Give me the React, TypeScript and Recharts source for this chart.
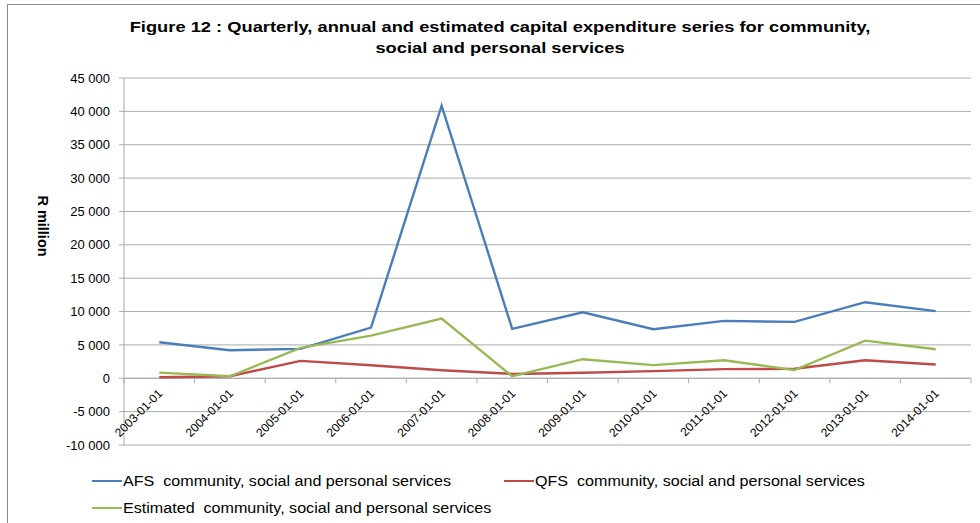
import React from 'react';
import { LineChart, Line, XAxis, YAxis, CartesianGrid, ReferenceLine } from 'recharts';

const categories = [
  '2003-01-01', '2004-01-01', '2005-01-01', '2006-01-01', '2007-01-01', '2008-01-01',
  '2009-01-01', '2010-01-01', '2011-01-01', '2012-01-01', '2013-01-01', '2014-01-01',
];
const afsValues = [5400, 4200, 4400, 7600, 40850, 7400, 9900, 7350, 8600, 8450, 11400, 10070];
const qfsValues = [150, 300, 2600, 1950, 1200, 650, 820, 1070, 1370, 1420, 2710, 2070];
const estValues = [850, 300, 4550, 6400, 8950, 300, 2860, 1970, 2710, 1220, 5640, 4350];
const yTicks = [-10000, -5000, 0, 5000, 10000, 15000, 20000, 25000, 30000, 35000, 40000, 45000];

const seriesNames = {
  afs: 'AFS  community, social and personal services',
  qfs: 'QFS  community, social and personal services',
  est: 'Estimated  community, social and personal services',
};
const colors = { afs: '#4A7EBB', qfs: '#BE4B48', est: '#98B954' };

const data = categories.map((c, i) => ({
  date: c,
  afs: afsValues[i],
  qfs: qfsValues[i],
  est: estValues[i],
}));

const W = 980;
const H = 523;
const PLOT_TOP = 78;
const PLOT_BOTTOM = 445;
const PLOT_LEFT = 124;
const PLOT_RIGHT = 971;
const Y_MIN = -10000;
const Y_MAX = 45000;
const ZERO_Y = PLOT_TOP + ((Y_MAX - 0) / (Y_MAX - Y_MIN)) * (PLOT_BOTTOM - PLOT_TOP);
const HALF_BAND = (PLOT_RIGHT - PLOT_LEFT) / categories.length / 2;
const GRID = '#ABABAB';
const FONT = '"Liberation Sans", Arial, sans-serif';

const fmt = (v: number) => {
  const s = Math.abs(v).toString().replace(/\B(?=(\d{3})+(?!\d))/g, ' ');
  return (v < 0 ? '-' : '') + s;
};

const CategoryTick = (props: any) => {
  const { x, payload, index } = props;
  const tx = x + 4;
  const ty = ZERO_Y + 16;
  return (
    <g>
      <line x1={x - HALF_BAND} x2={x - HALF_BAND} y1={ZERO_Y} y2={ZERO_Y + 5} stroke={GRID} />
      {index === categories.length - 1 && (
        <line x1={x + HALF_BAND} x2={x + HALF_BAND} y1={ZERO_Y} y2={ZERO_Y + 5} stroke={GRID} />
      )}
      <text
        x={tx}
        y={ty}
        transform={`rotate(-45, ${tx}, ${ty})`}
        textAnchor="end"
        fontSize={12}
        fontFamily={FONT}
        fill="#000"
      >
        {payload.value}
      </text>
    </g>
  );
};

export default function App() {
  const keys: Array<'afs' | 'qfs' | 'est'> = ['afs', 'qfs', 'est'];
  return (
    <div style={{ position: 'absolute', left: 0, top: 0, width: W, height: H, background: '#fff', overflow: 'hidden' }}>
      <div style={{ position: 'absolute', left: 7, top: 4, width: W, height: 1, background: '#8a8a8a', zIndex: 5 }} />
      <div style={{ position: 'absolute', left: 7, top: 4, width: 1, height: H, background: '#8a8a8a', zIndex: 5 }} />
      <div
        style={{
          position: 'absolute',
          left: 0,
          width: 1000,
          top: 16,
          textAlign: 'center',
          fontFamily: FONT,
          fontWeight: 'bold',
          fontSize: 15,
          lineHeight: '21px',
          color: '#000',
          transform: 'scaleX(1.22)',
          transformOrigin: '500px 0',
        }}
      >
        Figure 12 : Quarterly, annual and estimated capital expenditure series for community,
        <br />
        social and personal services
      </div>
      <div style={{ position: 'absolute', left: 0, top: 0 }}>
        <LineChart
          width={W}
          height={H}
          data={data}
          margin={{ top: PLOT_TOP, right: W - PLOT_RIGHT, bottom: H - PLOT_BOTTOM - 30, left: 0 }}
        >
          <CartesianGrid vertical={false} stroke={GRID} />
          <XAxis
            dataKey="date"
            height={30}
            axisLine={false}
            tickLine={false}
            interval={0}
            padding={{ left: HALF_BAND, right: HALF_BAND }}
            tick={<CategoryTick />}
          />
          <YAxis
            width={PLOT_LEFT}
            domain={[Y_MIN, Y_MAX]}
            ticks={yTicks}
            interval={0}
            tickFormatter={fmt}
            stroke={GRID}
            tickSize={5}
            tickMargin={9}
            tick={{ fill: '#000', fontSize: 13, fontFamily: FONT }}
            label={{
              content: () => (
                <text
                  x={43}
                  y={226}
                  transform="rotate(90, 43, 226)"
                  textAnchor="middle"
                  dominantBaseline="central"
                  fontSize={14.5}
                  fontWeight="bold"
                  fontFamily={FONT}
                  fill="#000"
                >
                  R million
                </text>
              ),
            }}
          />
          <ReferenceLine y={0} stroke={GRID} />
          {keys.map((k) => (
            <Line
              key={k}
              type="linear"
              dataKey={k}
              name={seriesNames[k]}
              stroke={colors[k]}
              strokeWidth={2.4}
              dot={false}
              activeDot={false}
              isAnimationActive={false}
            />
          ))}
        </LineChart>
      </div>
      {[
        { k: 'afs' as const, x: 92, y: 481 },
        { k: 'qfs' as const, x: 504, y: 481 },
        { k: 'est' as const, x: 92, y: 508 },
      ].map(({ k, x, y }) => (
        <div
          key={k}
          style={{
            position: 'absolute',
            left: x,
            top: y - 9,
            height: 18,
            display: 'flex',
            alignItems: 'center',
            fontFamily: FONT,
            color: '#000',
            whiteSpace: 'pre',
          }}
        >
          <span style={{ display: 'inline-block', width: 30, height: 2, background: colors[k], marginRight: 1 }} />
          <span
            style={{
              display: 'inline-block',
              fontSize: 14,
              transform: 'scaleX(1.15)',
              transformOrigin: '0 50%',
            }}
          >
            {seriesNames[k]}
          </span>
        </div>
      ))}
    </div>
  );
}
